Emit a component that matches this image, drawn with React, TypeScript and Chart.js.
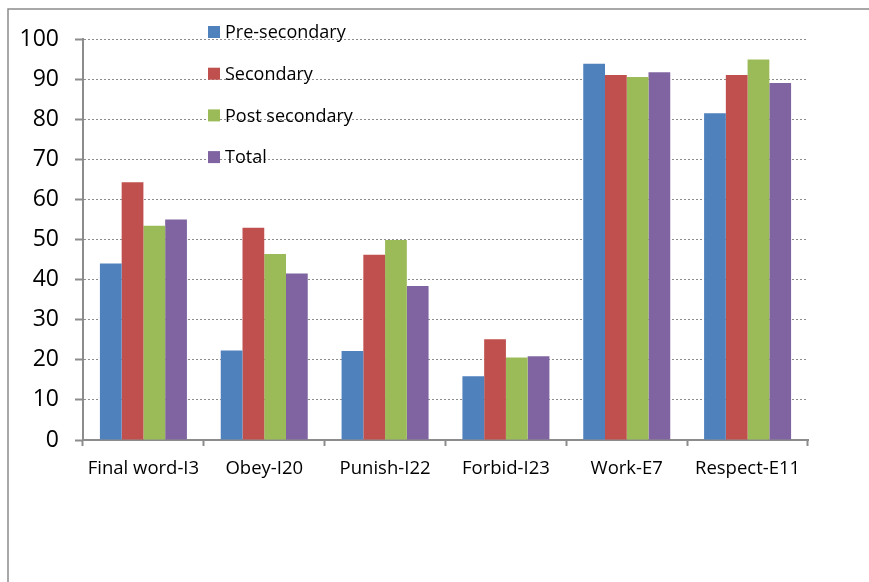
import React, { useEffect, useRef } from "react";
import { Chart, registerables } from "chart.js";

Chart.register(...registerables);

const categories = ["Final word-I3", "Obey-I20", "Punish-I22", "Forbid-I23", "Work-E7", "Respect-E11"];
const seriesNames = ["Pre-secondary", "Secondary", "Post secondary", "Total"];
const preSecondary = [44.0, 22.3, 22.2, 15.9, 93.8, 81.5];
const secondary = [64.3, 52.9, 46.2, 25.1, 91.0, 91.0];
const postSecondary = [53.4, 46.4, 49.9, 20.6, 90.5, 94.9];
const total = [55.0, 41.5, 38.4, 20.9, 91.7, 89.0];
const seriesColors = ["#4F81BD", "#C0504D", "#9BBB59", "#8064A2"];
const yTicks = [0, 10, 20, 30, 40, 50, 60, 70, 80, 90, 100];

const FONT = "'Open Sans', 'Noto Sans', sans-serif";

const framePlugin = {
  id: "frame",
  beforeDraw(chart: any) {
    const ctx = chart.ctx;
    ctx.save();
    ctx.fillStyle = "#ffffff";
    ctx.fillRect(0, 0, chart.width, chart.height);
    ctx.strokeStyle = "#8c8c8c";
    ctx.lineWidth = 1.5;
    ctx.beginPath();
    ctx.moveTo(8, chart.height);
    ctx.lineTo(8, 9);
    ctx.lineTo(chart.width, 9);
    ctx.stroke();
    ctx.restore();
  },
};

const legendPlugin = {
  id: "innerLegend",
  afterDatasetsDraw(chart: any) {
    const ctx = chart.ctx;
    const area = chart.chartArea;
    const x0 = area.left + 125;
    const y0 = area.top - 7;
    const step = 41.7;
    ctx.save();
    ctx.font = `18px ${FONT}`;
    ctx.textBaseline = "middle";
    ctx.textAlign = "left";
    chart.data.datasets.forEach((ds: any, i: number) => {
      const cy = y0 + i * step;
      ctx.fillStyle = ds.backgroundColor;
      ctx.fillRect(x0, cy - 6, 12, 12);
      ctx.fillStyle = "#000000";
      ctx.fillText(ds.label, x0 + 17, cy + 1);
    });
    ctx.restore();
  },
};

export default function App() {
  const ref = useRef<HTMLCanvasElement | null>(null);

  useEffect(() => {
    if (!ref.current) return;
    const seriesData = [preSecondary, secondary, postSecondary, total];
    const chart = new Chart(ref.current, {
      type: "bar",
      data: {
        labels: categories,
        datasets: seriesNames.map((name, i) => ({
          label: name,
          data: seriesData[i],
          backgroundColor: seriesColors[i],
          borderWidth: 0,
          categoryPercentage: 0.72,
          barPercentage: 1.0,
        })),
      },
      options: {
        responsive: false,
        animation: false,
        layout: { padding: { left: 0, top: 39, right: 61, bottom: 0 } },
        plugins: {
          legend: { display: false },
          tooltip: { enabled: false },
        },
        scales: {
          x: {
            offset: true,
            grid: {
              offset: true,
              drawOnChartArea: false,
              drawTicks: true,
              tickLength: 6,
              tickColor: "#8c8c8c",
              tickWidth: 2,
            },
            border: { display: true, color: "#8c8c8c", width: 2 },
            ticks: {
              color: "#000000",
              font: { family: FONT, size: 18.5 },
              padding: 12,
              maxRotation: 0,
              autoSkip: false,
            },
            afterFit(scale: any) {
              scale.height = 142;
            },
          },
          y: {
            min: 0,
            max: 100,
            afterBuildTicks(scale: any) {
              scale.ticks = yTicks.map((v) => ({ value: v }));
            },
            grid: {
              color: "#8c8c8c",
              lineWidth: 1,
              drawTicks: true,
              tickLength: 8,
              tickColor: "#8c8c8c",
              tickWidth: 2,
              tickBorderDash: [],
            },
            border: { display: true, color: "#8c8c8c", width: 2, dash: [2, 2] },
            ticks: {
              color: "#000000",
              font: { family: FONT, size: 23 },
              padding: 16,
            },
            afterFit(scale: any) {
              scale.width = 83;
            },
          },
        },
      },
      plugins: [framePlugin, legendPlugin],
    });
    return () => chart.destroy();
  }, []);

  return (
    <div style={{ position: "absolute", left: 0, top: 0, width: 869, height: 582 }}>
      <canvas ref={ref} width={869} height={582} style={{ width: 869, height: 582 }} />
    </div>
  );
}
